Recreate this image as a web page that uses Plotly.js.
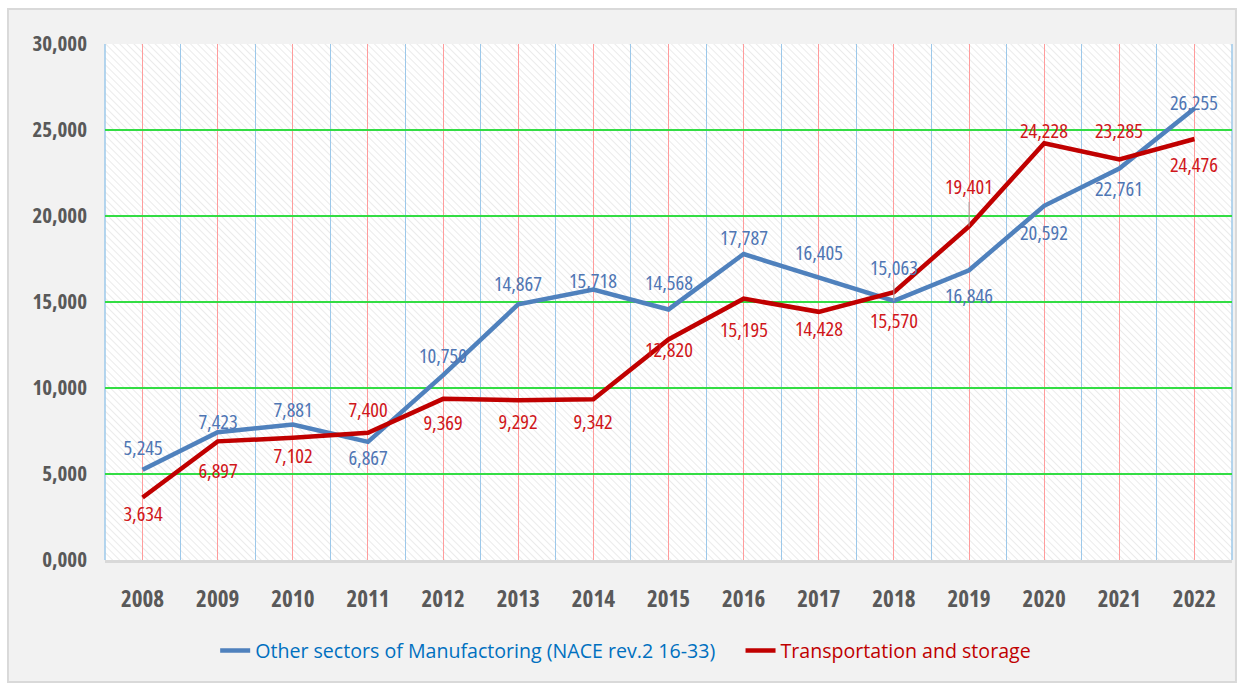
<!DOCTYPE html>
<html><head><meta charset="utf-8">
<script src="https://cdn.plot.ly/plotly-3.0.1.min.js"></script>
<style>
html,body{margin:0;padding:0;background:#fff;}
#chart{width:1243px;height:687px;}
#chart .annotation-text, #chart .xtick text, #chart .ytick text { font-stretch: 75% !important; }
</style>
</head><body><div id="chart"></div>
<script>
// ---- data ----
const years = [2008,2009,2010,2011,2012,2013,2014,2015,2016,2017,2018,2019,2020,2021,2022];
const manufacturing = [5245,7423,7881,6867,10750,14867,15718,14568,17787,16405,15063,16846,20592,22761,26255];
const transport = [3634,6897,7102,7400,9369,9292,9342,12820,15195,14428,15570,19401,24228,23285,24476];
const seriesNames = ['Other sectors of Manufactoring (NACE rev.2 16-33)','Transportation and storage'];
const yTickVals = [0,5000,10000,15000,20000,25000,30000];
const yTickText = ['0,000','5,000','10,000','15,000','20,000','25,000','30,000'];

// ---- label placement (style: pixel offsets of data labels, + = below) ----
const manufLabelDy = [-23,-11,-15,15,-20,-21,-10,-27,-17,-26,-34,25,26,19,-6];
const transLabelDy = [15,29,17,-24,23,21,22,9,30,16,28,-40,-13,-30,25];
const manufLeader = [0,0,0,0,0,0,0,0,0,0,1,0,0,0,0];
const transLeader = [0,0,0,0,0,0,0,0,0,0,0,1,0,0,0];

const FONT = '"Open Sans", sans-serif';
const fmt = v => v.toLocaleString('en-US');
const PAD = '\u00A0\u00A0\u00A0\u00A0';

const traces = [
  {x: years, y: manufacturing, type:'scatter', mode:'lines',
   name:'<span style="color:#0070C0">'+seriesNames[0]+'</span>'+PAD,
   line:{color:'#4F81BD', width:4.5}},
  {x: years, y: transport, type:'scatter', mode:'lines',
   name:'<span style="color:#C00000">'+seriesNames[1]+'</span>',
   line:{color:'#C00000', width:4.5}}
];

function labels(xs, ys, dy, leader, color){
  return xs.map((x,i)=>({
    x:x, y:ys[i], xref:'x', yref:'y', text:fmt(ys[i]),
    showarrow:true, ax:0, ay:dy[i], arrowhead:0, arrowwidth:1, standoff:0,
    arrowcolor: leader[i] ? '#A6A6A6' : 'rgba(0,0,0,0)',
    font:{family:FONT, size:20.5, color:color}
  }));
}

const frameSvg = '<svg xmlns="http://www.w3.org/2000/svg" width="1230" height="675" viewBox="0 0 1230 675" preserveAspectRatio="none">'+
  '<rect x="1" y="1" width="1228" height="673" fill="#F2F2F2" stroke="#D9D9D9" stroke-width="2"/></svg>';
const hatchSvg = '<svg xmlns="http://www.w3.org/2000/svg" width="1127" height="516" viewBox="0 0 1127 516" preserveAspectRatio="none">'+
  '<defs><pattern id="h" width="5" height="5" patternUnits="userSpaceOnUse" patternTransform="rotate(-45)">'+
  '<rect width="5" height="5" fill="#FFFFFF"/><line x1="0" y1="0" x2="0" y2="5" stroke="#E6E6E6" stroke-width="1.6"/></pattern></defs>'+
  '<rect width="1127" height="516" fill="url(#h)"/></svg>';
const uri = s => 'data:image/svg+xml;charset=utf-8,' + encodeURIComponent(s);

const layout = {
  width:1243, height:687,
  margin:{l:105, r:11, t:44, b:127},
  paper_bgcolor:'#ffffff', plot_bgcolor:'#FFFFFF',
  font:{family:FONT, color:'#595959'},
  showlegend:true,
  legend:{orientation:'h', x:0.462, xanchor:'center', y:-0.176, yanchor:'middle',
          font:{family:FONT, size:19.6, color:'#0070C0'}, bgcolor:'rgba(0,0,0,0)', itemwidth:30},
  xaxis:{range:[2007.5,2022.5], tickmode:'array', tickvals:years, ticktext:years.map(String),
         showgrid:true, gridcolor:'#FF9C9C', gridwidth:1, zeroline:false,
         minor:{tickmode:'linear', tick0:2007.5, dtick:1, showgrid:true, gridcolor:'#9CC8EA', gridwidth:1},
         showline:true, linecolor:'#D9D9D9', linewidth:3, mirror:false,
         ticks:'', ticklabelstandoff:16,
         tickfont:{family:FONT, size:23, color:'#595959', weight:'bold'}},
  yaxis:{range:[0,30000], tickmode:'array', tickvals:yTickVals, ticktext:yTickText,
         showgrid:true, gridcolor:'#33DD44', gridwidth:1.5, zeroline:false,
         showline:false, ticks:'', ticklabelstandoff:17,
         tickfont:{family:FONT, size:21, color:'#595959', weight:'bold'}},
  images:[
    {source:uri(frameSvg), xref:'paper', yref:'paper', x:-0.087, y:1.0698, sizex:1.0914, sizey:1.3082,
     xanchor:'left', yanchor:'top', sizing:'stretch', layer:'below'},
    {source:uri(hatchSvg), xref:'paper', yref:'paper', x:0, y:1, sizex:1, sizey:1,
     xanchor:'left', yanchor:'top', sizing:'stretch', layer:'below'}
  ],
  shapes:[
    {type:'line', xref:'paper', yref:'paper', x0:0, x1:0, y0:0, y1:1, line:{color:'#9CC8EA', width:1.5}, layer:'below'},
    {type:'line', xref:'paper', yref:'paper', x0:1, x1:1, y0:0, y1:1, line:{color:'#9CC8EA', width:1.5}, layer:'below'}
  ],
  annotations: labels(years, manufacturing, manufLabelDy, manufLeader, '#4F76B4')
      .concat(labels(years, transport, transLabelDy, transLeader, '#D0161A'))
};
Plotly.newPlot('chart', traces, layout, {displayModeBar:false, staticPlot:true});
</script></body></html>
